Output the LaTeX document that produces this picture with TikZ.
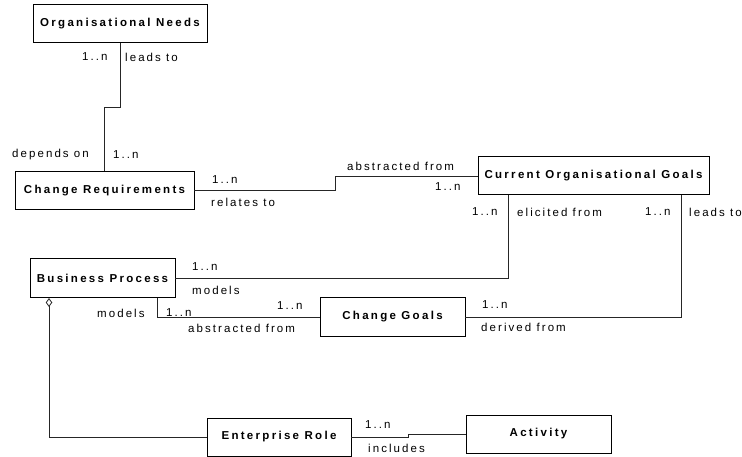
\documentclass[tikz,border=0pt]{standalone}
\usepackage{fontspec}
\setmainfont{Liberation Sans}
\newfontfamily\entfont[LetterSpace=20]{Liberation Sans}
\newfontfamily\relfont[LetterSpace=18]{Liberation Sans}
\usetikzlibrary{arrows.meta}

\begin{document}
\begin{tikzpicture}[
	x=1pt, y=-1pt,
	entity/.style={draw, line width=1pt, minimum height=38pt, inner sep=0pt,
		outer sep=0pt, font=\entfont\bfseries\fontsize{11.5}{13}\selectfont},
	rel/.style={anchor=west, inner sep=0pt,
		font=\relfont\fontsize{11.5}{13}\selectfont},
	link/.style={draw, line width=0.8pt, black!85},
	]
	\clip (0,0) rectangle (742,457);
	
	\node [entity, minimum width=174pt] (needs) at (120,24) {Organisational Needs};
	\node [entity, minimum width=179pt] (chreq) at (104.5,190.5) {Change Requirements};
	\node [entity, minimum width=231pt] (goals) at (593.5,176) {Current Organisational Goals};
	\node [entity, minimum width=145pt, minimum height=39pt] (bp) at (102.5,278.5) {Business Process};
	\node [entity, minimum width=145pt] (cgoals) at (392.5,317) {Change Goals};
	\node [entity, minimum width=144pt] (role) at (279,437) {Enterprise Role};
	\node [entity, minimum width=145pt] (activity) at (538.5,434) {Activity};
	
	% connectors
	\draw [link] (needs.south) -- ++(0,64) -| (chreq.north);
	\draw [link] (chreq.east) -- ++(141,0) |- (goals.west);
	\draw [link] ([xshift=-85.5pt]goals.south) |- (bp.east);
	\draw [link] ([xshift=87.5pt]goals.south) |- (cgoals.east);
	\draw [link] ([xshift=54.5pt]bp.south) |- (cgoals.west);
	\draw [link, {Diamond[open, length=9pt, width=6.5pt]}-] ([xshift=-53.5pt]bp.south) |- (role.west);
	\draw [link] (role.east) -- ++(57,0) |- (activity.west);
	
	% roles and multiplicities
	\node [rel] (m1) at (82,57) {1..n};
	\node [rel] (r1) at (125,57) {leads to};
	\node [rel] (r2) at (12,155) {depends on};
	\node [rel] (m2) at (113,155) {1..n};
	\node [rel] (m3) at (212,180) {1..n};
	\node [rel] (r3) at (211,202) {relates to};
	\node [rel] (r4) at (347,166) {abstracted from};
	\node [rel] (m4) at (435,187) {1..n};
	\node [rel] (m5) at (472,212) {1..n};
	\node [rel] (r5) at (517,212) {elicited from};
	\node [rel] (m6) at (645,212) {1..n};
	\node [rel] (r6) at (689,212) {leads to};
	\node [rel] (m7) at (192,267) {1..n};
	\node [rel] (r7) at (192,290) {models};
	\node [rel] (m8) at (482,305) {1..n};
	\node [rel] (r8) at (481,327) {derived from};
	\node [rel] (r9) at (97,313) {models};
	\node [rel] (m9) at (166,313) {1..n};
	\node [rel] (m10) at (277,306) {1..n};
	\node [rel] (r10) at (188,328) {abstracted from};
	\node [rel] (m11) at (365,425) {1..n};
	\node [rel] (r11) at (368,448) {includes};
\end{tikzpicture}
\end{document}
